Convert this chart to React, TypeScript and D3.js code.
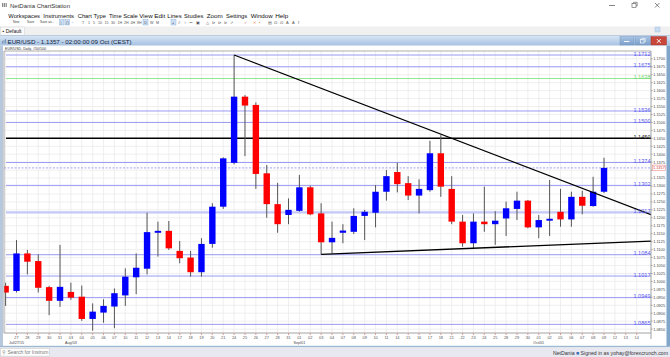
import React from 'react';
import * as d3 from 'd3';

// Day labels: first entry is Jul 24 (partially visible candle), then Jul 27 .. Oct 14
const dayLabels = ["24","27","28","29","30","31","03","04","05","06","07","10","11","12","13","14","17","18","19","20","21","24","25","26","27","28","31","01","02","03","04","07","08","09","10","11","14","15","16","17","18","21","22","23","24","25","28","29","30","01","02","05","06","07","08","09","12","13","14"];
const monthLabels = ["Jul/27/15", "Aug/03", "Sep/01", "Oct/01"];
const monthLabelPos = [1, 6, 27, 49];

const opens  = [1.0986,1.0970,1.1088,1.1064,1.0982,1.0939,1.0967,1.0952,1.0882,1.0902,1.0921,1.0956,1.1013,1.1040,1.1153,1.1159,1.1096,1.1075,1.1029,1.1118,1.1235,1.1373,1.1581,1.1555,1.1340,1.1243,1.1209,1.1222,1.1296,1.1214,1.1123,1.1153,1.1156,1.1206,1.1216,1.1282,1.1344,1.1309,1.1270,1.1287,1.1403,1.1291,1.1188,1.1120,1.1188,1.1180,1.1198,1.1228,1.1254,1.1170,1.1191,1.1219,1.1195,1.1266,1.1237,1.1282];
const highs  = [1.0996,1.1130,1.1099,1.1085,1.0986,1.1115,1.0996,1.0987,1.0931,1.0944,1.0978,1.1041,1.1088,1.1216,1.1188,1.1190,1.1127,1.1096,1.1136,1.1246,1.1390,1.1712,1.1586,1.1563,1.1366,1.1310,1.1261,1.1335,1.1301,1.1246,1.1188,1.1180,1.1230,1.1225,1.1303,1.1350,1.1373,1.1331,1.1321,1.1442,1.1460,1.1331,1.1209,1.1214,1.1298,1.1221,1.1251,1.1282,1.1256,1.1209,1.1319,1.1291,1.1282,1.1285,1.1329,1.1389];
const lows   = [1.0923,1.0965,1.1022,1.0965,1.0894,1.0920,1.0942,1.0876,1.0845,1.0870,1.0853,1.0923,1.0960,1.1022,1.1078,1.1099,1.1057,1.1015,1.1015,1.1106,1.1228,1.1368,1.1394,1.1291,1.1200,1.1153,1.1180,1.1219,1.1208,1.1085,1.1088,1.1120,1.1149,1.1130,1.1170,1.1254,1.1280,1.1256,1.1214,1.1282,1.1266,1.1180,1.1109,1.1104,1.1156,1.1115,1.1143,1.1193,1.1167,1.1136,1.1143,1.1172,1.1172,1.1211,1.1235,1.1278];
const closes = [1.0965,1.1088,1.1062,1.0980,1.0939,1.0983,1.0949,1.0882,1.0905,1.0923,1.0963,1.1015,1.1043,1.1155,1.1159,1.1104,1.1073,1.1029,1.1118,1.1235,1.1387,1.1581,1.1553,1.1338,1.1243,1.1180,1.1225,1.1296,1.1211,1.1123,1.1137,1.1160,1.1206,1.1219,1.1282,1.1331,1.1306,1.1270,1.1291,1.1403,1.1298,1.1188,1.1120,1.1188,1.1180,1.1191,1.1230,1.1254,1.1170,1.1193,1.1197,1.1195,1.1266,1.1238,1.1282,1.1357];

const levelValues = [1.1712, 1.1675, 1.1638, 1.1536, 1.1500, 1.1450, 1.1374, 1.1302, 1.1217, 1.1084, 1.1017, 1.0949, 1.0865];
const levelKinds  = ["blue","blue","green","blue","blue","black","blue","blue","wide","blue","blue","blue","blue"];
const lastPrice = 1.1357;

const resistancePts: [number, number][] = [[21, 1.1712], [59.32, 1.1210]];
const supportPts: [number, number][] = [[29, 1.1085], [59.32, 1.1127]];

const yTickValues = d3.range(0, 35).map(i => +(1.0850 + i * 0.0025).toFixed(4));

const menuItems = ["Workspaces","Instruments","Chart Type","Time Scale","View","Edit","Lines","Studies","Zoom","Settings","Window","Help"];
const menuStart = [8.3, 43.3, 77.7, 109, 139.3, 154.3, 167.3, 184, 206.7, 226, 250.7, 275.3];
const menuEnd   = [40, 74, 106, 137.7, 152.7, 165.3, 181.7, 203.3, 222.7, 247.3, 272.7, 288.3];

const FONT = "'Liberation Sans', Arial, sans-serif";

export default function App() {
  const plot = { left: 4, right: 651, top: 51, bottom: 333 };
  const x = d3.scaleLinear().domain([0, 58]).range([5.62, 636.66]);
  const y = d3.scaleLinear().domain([1.08378, 1.17246]).range([plot.bottom, plot.top]);
  const line = d3.line<[number, number]>().x(d => x(d[0])).y(d => y(d[1]));
  const bw = 6.4;

  const levelColor = (k: string) => k === "green" ? "#8fe88f" : k === "black" ? "#000" : k === "wide" ? "#c4c8f6" : "#9a9af4";
  const levelWidth = (k: string) => k === "black" ? 1.6 : k === "wide" ? 2.4 : 1;
  const labelColor = (k: string) => k === "green" ? "#6fd46f" : k === "black" ? "#222" : "#5a5aee";

  const lastY = y(lastPrice);

  return (
    <svg width={670} height={357} style={{ position: 'absolute', left: 0, top: 0, display: 'block', fontFamily: FONT }}>
      <defs>
        <linearGradient id="tb" x1="0" y1="0" x2="0" y2="1">
          <stop offset="0" stopColor="#d9e6f4" />
          <stop offset="1" stopColor="#a6c1e2" />
        </linearGradient>
        <linearGradient id="btn" x1="0" y1="0" x2="0" y2="1">
          <stop offset="0" stopColor="#a9c4e4" />
          <stop offset="1" stopColor="#7d9fc9" />
        </linearGradient>
        <clipPath id="plotClip">
          <rect x={plot.left} y={plot.top} width={plot.right - plot.left} height={plot.bottom - plot.top} />
        </clipPath>
      </defs>
      <rect x={0} y={0} width={670} height={357} fill="#ffffff" />

      {/* Title bar */}
      <g fill="#888">
        <rect x={2} y={3} width={1.2} height={4} /><rect x={3.8} y={3} width={1.2} height={4} /><rect x={5.6} y={3} width={1.2} height={4} />
      </g>
      <text x={10} y={8} fontSize={6} fill="#333">NetDania ChartStation</text>
      <line x1={609} y1={5.5} x2={615} y2={5.5} stroke="#555" strokeWidth={0.7} />
      <rect x={632} y={3.5} width={4} height={4} fill="none" stroke="#555" strokeWidth={0.6} />
      <path d="M633.5 3.5 V2.3 H637.2 V6 H636" fill="none" stroke="#555" strokeWidth={0.6} />
      <path d="M655 3 L659.5 7.5 M659.5 3 L655 7.5" stroke="#555" strokeWidth={0.7} />

      {/* Menu bar */}
      {menuItems.map((m, i) => (
        <text key={m} x={menuStart[i]} y={18.2} fontSize={6.1} fill="#111" textLength={menuEnd[i] - menuStart[i]} lengthAdjust="spacingAndGlyphs">{m}</text>
      ))}
      {/* toolbar */}
      <g fontSize={3.2} fill="#444">
        <text x={13} y={22.5}>New</text>
        <text x={27} y={22.5}>Save</text>
        <text x={40} y={22.5}>Save as...</text>
      </g>
      <rect x={59.5} y={19.5} width={4.5} height={5.5} fill="#cfe0f5" stroke="#7ea6d8" strokeWidth={0.4} />
      <rect x={65} y={19.5} width={4.5} height={5.5} fill="#cfe0f5" stroke="#7ea6d8" strokeWidth={0.4} />
      <g fontSize={3.6} fill="#555">
        <text x={60.6} y={24}>|</text><text x={66} y={24}>∏</text><text x={71.5} y={24} fill="#3b74c9">~</text>
        <text x={82} y={24}>T</text><text x={88} y={24}>1</text><text x={93} y={24}>5</text><text x={98} y={24}>10</text>
        <text x={104.5} y={24}>15</text><text x={111} y={24}>30</text><text x={117.5} y={24}>1H</text><text x={124} y={24}>2H</text>
        <text x={130.5} y={24}>4H</text><text x={137} y={24}>8H</text>
      </g>
      <rect x={143} y={19.5} width={5} height={5.5} fill="#cfe0f5" stroke="#7ea6d8" strokeWidth={0.4} />
      <g fontSize={3.6} fill="#555">
        <text x={144.2} y={24}>D</text><text x={150} y={24}>W</text><text x={156} y={24}>M</text>
      </g>
      <rect x={171} y={19.5} width={5} height={5.5} fill="#cfe0f5" stroke="#7ea6d8" strokeWidth={0.4} />
      <g fontSize={4} fill="#555">
        <text x={172} y={24.3} fill="#224">+</text><text x={178} y={24.3}>#</text><text x={184} y={24.3}>↕</text>
        <text x={189.5} y={24.3}>••</text><text x={196} y={24.3}>▣</text>
        <text x={206} y={24.3}>△</text><text x={212} y={24.3}>⊳</text><text x={218} y={24.3}>⊳</text><text x={224} y={24.3}>⊳</text><text x={230} y={24.3}>↗</text>
        <text x={244} y={24.3} fill="#c66">✓</text><text x={253} y={24.3} fill="#e85">✕</text><text x={259} y={24.3} fill="#d84">▪</text>
        <text x={268} y={24.3}>▤</text><text x={274} y={24.3}>⊡</text><text x={280} y={24.3}>⊡</text>
        <text x={286} y={24.3}>A</text><text x={292} y={24.3}>A</text><text x={298} y={24.3}>Ī</text>
      </g>

      {/* tab bar */}
      <rect x={0} y={26.5} width={670} height={9} fill="#f0f0f0" />
      <rect x={0.5} y={27} width={24} height={8.5} fill="#fafafa" stroke="#d0d0d0" strokeWidth={0.5} />
      <text x={2.5} y={33.2} fontSize={5} fill="#222">▪ Default</text>
      <rect x={655} y={27} width={5} height={5} fill="#c7dbf1" stroke="#9bb9df" strokeWidth={0.4} />

      {/* chart window title */}
      <rect x={0} y={35.5} width={670} height={10} fill="url(#tb)" />
      <line x1={0} y1={35.5} x2={670} y2={35.5} stroke="#9fb6d2" strokeWidth={0.6} />
      <g fill="#7894b8"><rect x={2} y={41} width={1} height={2.5} /><rect x={3.5} y={40} width={1} height={3.5} /><rect x={5} y={39} width={1} height={4.5} /></g>
      <text x={7.5} y={43.5} fontSize={6.2} fill="#13233d">EUR/USD - 1.1357 - 02:00:00  09 Oct (CEST)</text>
      <rect x={620} y={36.5} width={14} height={8.5} fill="url(#btn)" stroke="#6f8fba" strokeWidth={0.4} />
      <line x1={624} y1={41.5} x2={629.5} y2={41.5} stroke="#fff" strokeWidth={0.9} />
      <rect x={635} y={36.5} width={15.5} height={8.5} fill="url(#btn)" stroke="#6f8fba" strokeWidth={0.4} />
      <rect x={640.5} y={39.5} width={3.5} height={3.5} fill="none" stroke="#fff" strokeWidth={0.6} />
      <path d="M641.8 39.5 V38.3 H645.3 V41.8 H644" fill="none" stroke="#fff" strokeWidth={0.6} />
      <rect x={651} y={36.5} width={15.5} height={8.5} fill="#c9463b" stroke="#9c2d25" strokeWidth={0.4} />
      <path d="M656.8 39 L660.8 43 M660.8 39 L656.8 43" stroke="#fff" strokeWidth={0.9} />

      {/* chart frame */}
      <rect x={0} y={45.5} width={3} height={301} fill="#b8c8dc" />
      <rect x={666.5} y={45.5} width={3.5} height={301} fill="#7fa5c8" />
      <text x={5} y={49.6} fontSize={3.6} fill="#333">EUR/USD, Daily, #50/100</text>

      {/* grid */}
      <g clipPath="url(#plotClip)">
        {yTickValues.map(v => (
          <line key={'gy' + v} x1={plot.left} x2={plot.right} y1={y(v)} y2={y(v)} stroke="#ebebeb" strokeWidth={0.8} />
        ))}
        {dayLabels.map((d, i) => (
          <line key={'gx' + i} x1={x(i)} x2={x(i)} y1={plot.top} y2={plot.bottom} stroke="#ebebeb" strokeWidth={0.8} />
        ))}

        {/* level lines */}
        {levelValues.map((v, i) => (
          <line key={'lv' + v} x1={plot.left + 2} x2={plot.right} y1={y(v)} y2={y(v)} stroke={levelColor(levelKinds[i])} strokeWidth={levelWidth(levelKinds[i])} />
        ))}
        <line x1={plot.left} x2={plot.right} y1={lastY} y2={lastY} stroke="#8c8cf2" strokeWidth={0.8} strokeDasharray="2,1.5" />

        {/* candles */}
        {opens.map((o, i) => {
          const c = closes[i];
          const up = c >= o;
          const top = y(Math.max(o, c));
          const h = Math.max(1.2, Math.abs(y(o) - y(c)));
          return (
            <g key={'c' + i}>
              <line x1={x(i)} x2={x(i)} y1={y(highs[i])} y2={y(lows[i])} stroke="#555" strokeWidth={1} />
              <rect x={x(i) - bw / 2} y={top} width={bw} height={h} fill={up ? "#0000ff" : "#ff0000"} />
            </g>
          );
        })}

        {/* trend lines */}
        <path d={line(resistancePts) || ''} stroke="#000" strokeWidth={1.3} fill="none" />
        <path d={line(supportPts) || ''} stroke="#000" strokeWidth={1.3} fill="none" />
      </g>

      {/* level labels */}
      {levelValues.map((v, i) => (
        <text key={'ll' + v} x={plot.right - 0.5} y={y(v) + 0.6} fontSize={5.6} textAnchor="end" fill={labelColor(levelKinds[i])}>{v.toFixed(4)}</text>
      ))}

      {/* plot border */}
      <line x1={plot.left} x2={plot.right} y1={plot.top} y2={plot.top} stroke="#9a9a9a" strokeWidth={0.8} />
      <line x1={plot.left} x2={plot.left} y1={plot.top} y2={plot.bottom} stroke="#8a8a8a" strokeWidth={0.8} />
      <line x1={plot.left} x2={plot.right} y1={plot.bottom} y2={plot.bottom} stroke="#8a8a8a" strokeWidth={0.8} />
      <line x1={plot.right} x2={plot.right} y1={plot.top} y2={plot.bottom + 6} stroke="#8a8a8a" strokeWidth={0.8} />

      {/* right axis */}
      {yTickValues.map(v => (
        <g key={'yt' + v}>
          <line x1={plot.right} x2={plot.right + 1.8} y1={y(v)} y2={y(v)} stroke="#777" strokeWidth={0.5} />
          {Math.abs(y(v) - lastY) > 4.5 ? (
            <text x={plot.right + 2.2} y={y(v) + 1.4} fontSize={3.9} fill="#444">{v.toFixed(4)}</text>
          ) : null}
        </g>
      ))}
      <rect x={652.3} y={lastY - 2.8} width={13} height={5.6} fill="#fff" stroke="#f07070" strokeWidth={0.5} />
      <text x={652.9} y={lastY + 1.4} fontSize={3.9} fill="#c33">{lastPrice.toFixed(4)}</text>

      {/* x axis */}
      {dayLabels.map((d, i) => (x(i) > 10 && x(i) < 645) ? (
        <g key={'xt' + i}>
          <line x1={x(i)} x2={x(i)} y1={plot.bottom + 0.3} y2={plot.bottom + 2} stroke="#e05050" strokeWidth={0.6} />
          <text x={x(i)} y={339} fontSize={3.9} textAnchor="middle" fill="#555">{d}</text>
        </g>
      ) : null)}
      {monthLabels.map((m, i) => (
        <text key={m} x={x(monthLabelPos[i])} y={343.8} fontSize={3.7} textAnchor="middle" fill="#444">{m}</text>
      ))}

      {/* bottom frame + status bar */}
      <rect x={0} y={345.8} width={670} height={1.6} fill="#9fb8d2" />
      <rect x={0} y={347.4} width={670} height={9.6} fill="#e8e8f1" />
      <rect x={0.5} y={348.3} width={49} height={7.8} fill="#fff" stroke="#c4c4c4" strokeWidth={0.5} />
      <text x={2} y={354.3} fontSize={5} fill="#777">⚲ Search for Instrum</text>
      <text x={668} y={354.5} fontSize={5.2} textAnchor="end" fill="#333">NetDania <tspan fill="#3a6fb8">■</tspan> Signed in as yohay@forexcrunch.com</text>
    </svg>
  );
}
